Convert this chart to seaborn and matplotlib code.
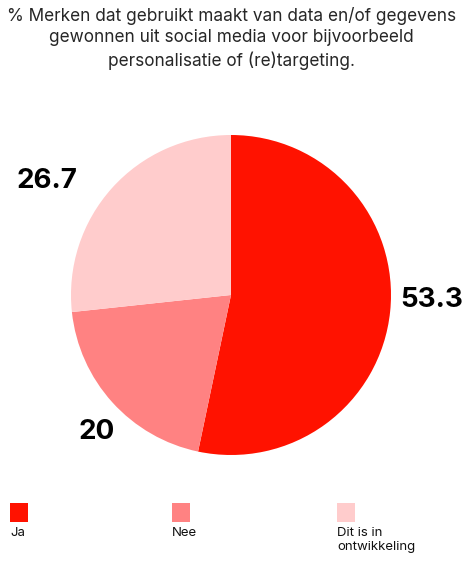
import matplotlib.pyplot as plt
import matplotlib.patches as mpatches
import seaborn as sns

labels = ["Ja", "Nee", "Dit is in\nontwikkeling"]
values = [53.3, 20, 26.7]
colors = ["#FF1200", "#FF8282", "#FFCCCC"]

sns.set_theme(style="white")
plt.rcParams["font.family"] = ["Inter", "DejaVu Sans"]

fig = plt.figure(figsize=(4.66, 5.66), dpi=100)
ax = fig.add_axes([(231 - 160) / 466, (566 - 295 - 160) / 566, 320 / 466, 320 / 566])

wedges, texts = ax.pie(
    values,
    colors=colors,
    startangle=90,
    counterclock=False,
    labels=[f"{v:g}" for v in values],
    labeldistance=1.25,
    wedgeprops=dict(linewidth=0),
    textprops=dict(fontsize=20, fontweight="bold", color="black", ha="center", va="center"),
)
# nudge value labels to where the reference puts them
label_pos = [(1.256, -0.03), (-0.84, -0.855), (-1.15, 0.71)]
for t, pos in zip(texts, label_pos):
    t.set_position(pos)
ax.set_xlim(-1, 1)
ax.set_ylim(-1, 1)
ax.set_aspect("equal")

fig.suptitle(
    "% Merken dat gebruikt maakt van data en/of gegevens\n"
    "gewonnen uit social media voor bijvoorbeeld\n"
    "personalisatie of (re)targeting.",
    x=0.497, y=0.988, va="top", fontsize=12.4, linespacing=1.35,
)

# custom legend: swatch above label
legend_x = [10, 172, 337]
for x, lab, col in zip(legend_x, labels, colors):
    fig.patches.append(mpatches.Rectangle(
        (x / 466, (566 - 522) / 566), 18 / 466, 19 / 566,
        transform=fig.transFigure, facecolor=col, edgecolor="none"))
    fig.text(x / 466, (566 - 527) / 566, lab, ha="left", va="top",
             fontsize=9.5, linespacing=1.25, color="#111111")

fig.savefig("out.png", dpi=100)
